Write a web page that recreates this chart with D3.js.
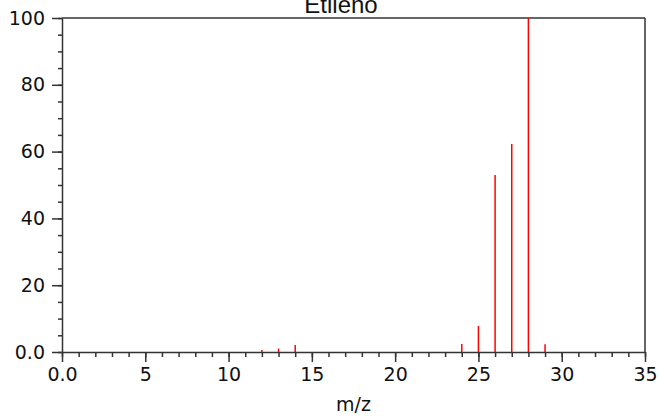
<!DOCTYPE html>
<html><head><meta charset="utf-8">
<script src="https://cdn.jsdelivr.net/npm/d3@7/dist/d3.min.js"></script>
<style>body{margin:0;background:#fff}svg{display:block}</style>
</head><body>
<script>
const title = "Etileno";
const mz = [12, 13, 14, 24, 25, 26, 27, 28, 29];
const intensity = [0.6, 1.0, 2.1, 2.4, 7.8, 53.0, 62.3, 100, 2.3];
const xTicks = [0, 5, 10, 15, 20, 25, 30, 35];
const xTickLabels = ["0.0", "5", "10", "15", "20", "25", "30", "35"];
const yTicks = [0, 20, 40, 60, 80, 100];
const yTickLabels = ["0.0", "20", "40", "60", "80", "100"];
const xLabel = "m/z";

const W = 660, H = 419;
const m = {l: 62, r: 15, t: 18, b: 67};
const svg = d3.select("body").append("svg").attr("width", W).attr("height", H);
const x = d3.scaleLinear().domain([0, 35]).range([m.l, W - m.r]);
const y = d3.scaleLinear().domain([0, 100]).range([H - m.b, m.t]);
const axisColor = "#333";
const font = "DejaVu Sans, sans-serif";

// frame top/right
svg.append("line").attr("x1", x(0)).attr("x2", x(35)).attr("y1", y(100)).attr("y2", y(100))
  .attr("stroke", axisColor).attr("stroke-width", 1.5);
svg.append("line").attr("x1", x(35)).attr("x2", x(35)).attr("y1", y(100)).attr("y2", y(0))
  .attr("stroke", axisColor).attr("stroke-width", 1.5);

// peaks
svg.append("g").selectAll("line").data(mz).join("line")
  .attr("x1", d => x(d)).attr("x2", d => x(d))
  .attr("y1", y(0)).attr("y2", (d, i) => y(intensity[i]))
  .attr("stroke", "#ff0000").attr("stroke-width", 1.5);

// x axis
const xMinor = d3.range(0, 36, 1);
const gx = svg.append("g").attr("transform", `translate(0,${y(0)})`);
gx.call(d3.axisBottom(x).tickValues(xMinor).tickSize(5).tickFormat(""));
gx.select(".domain").remove();
const gx2 = svg.append("g").attr("transform", `translate(0,${y(0)})`);
gx2.call(d3.axisBottom(x).tickValues(xTicks).tickSize(10).tickSizeOuter(0).tickPadding(6)
  .tickFormat((d, i) => xTickLabels[i]));
svg.selectAll("g .tick line").attr("stroke", axisColor).attr("stroke-width", 1.5);
gx2.select(".domain").attr("stroke", axisColor).attr("stroke-width", 1.5);
gx2.selectAll("text").attr("font-family", font).attr("font-size", 19).attr("fill", "#111");

// y axis
const yMinor = d3.range(0, 101, 5);
const gy = svg.append("g").attr("transform", `translate(${x(0)},0)`);
gy.call(d3.axisLeft(y).tickValues(yMinor).tickSize(4).tickFormat(""));
gy.select(".domain").remove();
const gy2 = svg.append("g").attr("transform", `translate(${x(0)},0)`);
gy2.call(d3.axisLeft(y).tickValues(yTicks).tickSize(10).tickSizeOuter(0).tickPadding(7)
  .tickFormat((d, i) => yTickLabels[i]));
gy2.select(".domain").attr("stroke", axisColor).attr("stroke-width", 1.5);
gy2.selectAll("text").attr("font-family", font).attr("font-size", 19).attr("fill", "#111");
svg.selectAll(".tick line").attr("stroke", axisColor).attr("stroke-width", 1.5);

// labels
svg.append("text").attr("x", (x(0) + x(35)) / 2).attr("y", 411).attr("text-anchor", "middle")
  .attr("font-family", font).attr("font-size", 19).attr("fill", "#111").text(xLabel);
svg.append("text").attr("x", 341).attr("y", 13).attr("text-anchor", "middle")
  .attr("font-family", "Liberation Sans, Arial, sans-serif").attr("font-size", 24).attr("fill", "#111").text(title);
</script>
</body></html>
